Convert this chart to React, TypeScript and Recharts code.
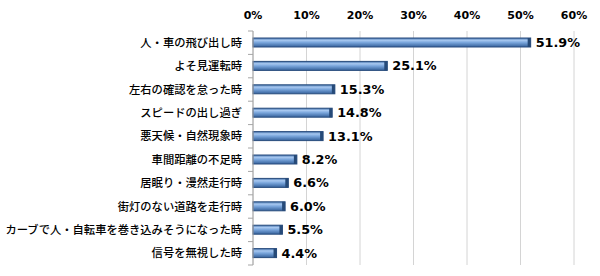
import React from 'react';
import { BarChart, Bar, XAxis, YAxis, CartesianGrid, LabelList } from 'recharts';

const categories = [
  '人・車の飛び出し時',
  'よそ見運転時',
  '左右の確認を怠った時',
  'スピードの出し過ぎ',
  '悪天候・自然現象時',
  '車間距離の不足時',
  '居眠り・漫然走行時',
  '街灯のない道路を走行時',
  'カーブで人・自転車を巻き込みそうになった時',
  '信号を無視した時',
];
const values = [51.9, 25.1, 15.3, 14.8, 13.1, 8.2, 6.6, 6.0, 5.5, 4.4];
const xTicks = [0, 10, 20, 30, 40, 50, 60];

const data = categories.map((name, i) => ({ name, value: values[i] }));

const BAND = 23.4;

const YTick = (props: any) => {
  const { x, y, payload, index } = props;
  return (
    <g>
      <text
        x={x - 11}
        y={y}
        dy={4}
        textAnchor="end"
        fontSize={11.3}
        fontWeight={500}
        fontFamily="'Noto Sans CJK JP', sans-serif"
        fill="#000"
      >
        {payload.value}
      </text>
      <line x1={x - 5} x2={x} y1={y + BAND / 2} y2={y + BAND / 2} stroke="#a6a6a6" />
      {index === 0 && (
        <line x1={x - 5} x2={x} y1={y - BAND / 2} y2={y - BAND / 2} stroke="#a6a6a6" />
      )}
    </g>
  );
};

const BarShape = (props: any) => {
  const { x, y, width, height } = props;
  if (!width || width <= 0) return null;
  const cap = 3;
  return (
    <g>
      <rect x={x} y={y} width={width} height={height} fill="url(#barGrad)" stroke="#2a4d7e" strokeWidth={1} />
      <rect x={x + width - cap} y={y} width={cap} height={height} fill="#264a78" />
    </g>
  );
};

export default function App() {
  return (
    <div style={{ position: 'absolute', left: 0, top: 0, width: 600, height: 276, background: '#fff' }}>
      <BarChart
        width={600}
        height={276}
        data={data}
        layout="vertical"
        margin={{ top: 0, right: 26, bottom: 11, left: 0 }}
      >
        <defs>
          <linearGradient id="barGrad" x1="0" y1="0" x2="0" y2="1">
            <stop offset="0%" stopColor="#3f6ea8" />
            <stop offset="25%" stopColor="#a8c8f0" />
            <stop offset="50%" stopColor="#7aa6dc" />
            <stop offset="100%" stopColor="#34609a" />
          </linearGradient>
        </defs>
        <CartesianGrid horizontal={false} stroke="#d4d4d4" />
        <XAxis
          type="number"
          orientation="top"
          domain={[0, 60]}
          ticks={xTicks}
          tickFormatter={(v: number) => `${v}%`}
          axisLine={false}
          tickLine={false}
          tickSize={0}
          tickMargin={12}
          height={31}
          interval={0}
          tick={{ fontSize: 11, fontWeight: 'bold', fill: '#000', fontFamily: "'DejaVu Sans', Verdana, sans-serif" }}
        />
        <YAxis
          type="category"
          dataKey="name"
          width={253}
          axisLine={{ stroke: '#a6a6a6' }}
          tickLine={false}
          tickSize={0}
          tickMargin={0}
          interval={0}
          tick={<YTick />}
        />
        <Bar dataKey="value" barSize={9} shape={<BarShape />} isAnimationActive={false}>
          <LabelList
            dataKey="value"
            position="right"
            offset={5}
            formatter={(v: any) => `${Number(v).toFixed(1)}%`}
            style={{ fontSize: 12.8, fontWeight: 'bold', fill: '#000', fontFamily: "'DejaVu Sans', Verdana, sans-serif" }}
          />
        </Bar>
      </BarChart>
    </div>
  );
}
